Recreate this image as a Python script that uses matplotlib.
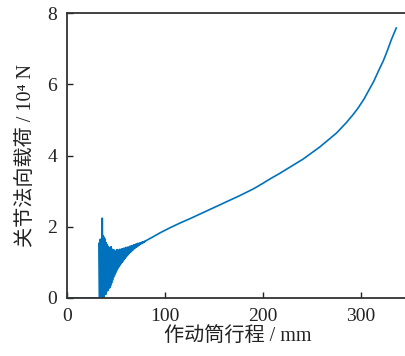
import numpy as np
import matplotlib
matplotlib.use("Agg")
import matplotlib.pyplot as plt

# 作动筒行程 (mm) 与关节法向载荷 (10^4 N)
# 起始段：载荷为零
idle_stroke = [0, 10, 20, 30, 33]
idle_load = [0, 0, 0, 0, 0]

# 冲击段：峰值 / 谷值交替
peak_stroke = list(range(33, 81))
peak_load = [1.55, 1.65, 1.60, 2.24, 1.75, 1.70, 1.65, 1.55, 1.50, 1.45,
             1.42, 1.40, 1.44, 1.37, 1.34, 1.35, 1.31, 1.32, 1.36, 1.33,
             1.35, 1.37, 1.35, 1.38, 1.37, 1.40, 1.39, 1.42, 1.41, 1.43,
             1.42, 1.45, 1.45, 1.47, 1.47, 1.49, 1.49, 1.51, 1.51, 1.53,
             1.53, 1.54, 1.55, 1.56, 1.57, 1.58, 1.59, 1.60]
trough_stroke = [s + 0.5 for s in range(33, 80)]
trough_load = [0.00, 0.05, 0.00, 0.10, 0.02, 0.15, 0.10, 0.25, 0.20, 0.30,
               0.28, 0.35, 0.42, 0.50, 0.58, 0.64, 0.70, 0.76, 0.81, 0.86,
               0.90, 0.94, 0.98, 1.01, 1.05, 1.09, 1.12, 1.16, 1.19, 1.22,
               1.25, 1.28, 1.30, 1.33, 1.35, 1.38, 1.40, 1.42, 1.44, 1.46,
               1.48, 1.50, 1.52, 1.53, 1.55, 1.56, 1.58]

# 平稳段
smooth_stroke = [80, 88, 95, 105, 115, 125, 136, 150, 165, 176, 190, 200,
                 207, 216, 225, 241, 258, 275, 285, 292, 297, 303, 309,
                 313, 318, 323, 327, 331, 336]
smooth_load = [1.60, 1.72, 1.83, 1.97, 2.10, 2.22, 2.36, 2.54, 2.73, 2.87,
               3.06, 3.22, 3.34, 3.48, 3.63, 3.90, 4.24, 4.63, 4.92, 5.15,
               5.33, 5.58, 5.88, 6.08, 6.38, 6.67, 6.95, 7.25, 7.58]

osc_stroke, osc_load = [], []
for i in range(len(trough_stroke)):
    osc_stroke += [peak_stroke[i], trough_stroke[i]]
    osc_load += [peak_load[i], trough_load[i]]

stroke = np.array(idle_stroke + osc_stroke + smooth_stroke)
load = np.array(idle_load + osc_load + smooth_load)

plt.rcParams["font.family"] = ["Liberation Serif", "Noto Sans CJK SC"]

fig = plt.figure(figsize=(4.06, 3.56), dpi=100)
ax = fig.add_axes([67 / 406, 1 - 298 / 356, 341 / 406, 285 / 356])

ax.plot(stroke, load, color="#0072BD", linewidth=1.2)

ax.set_xlim(0, 348)
ax.set_ylim(0, 8)
ax.set_xticks([0, 100, 200, 300])
ax.set_yticks([0, 2, 4, 6, 8])
ax.tick_params(direction="in", length=4, width=1, labelsize=14, pad=7,
               colors="#222222")
for side in ["left", "bottom", "top"]:
    ax.spines[side].set_linewidth(1.3)
    ax.spines[side].set_color("#333333")
ax.spines["right"].set_visible(False)

ax.set_xlabel("作动筒行程 / mm", fontsize=14.5, color="#222222", labelpad=2)
ax.set_ylabel("关节法向载荷 / 10\u2074 N", fontsize=14.5, color="#222222",
              labelpad=8)

fig.savefig("out.png", dpi=100)
